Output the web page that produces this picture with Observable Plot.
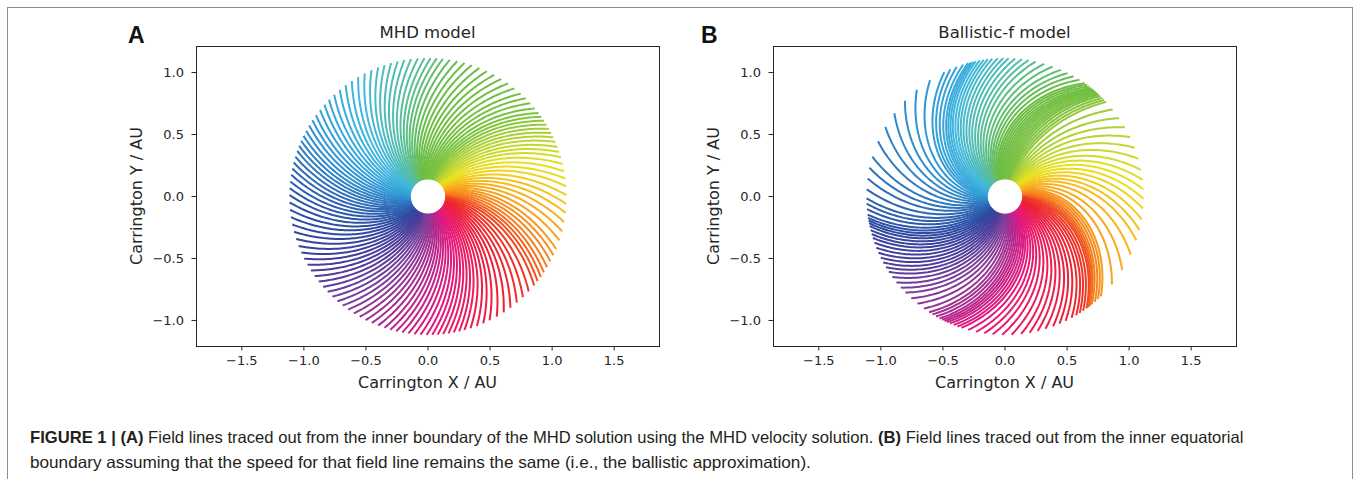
<!DOCTYPE html>
<html><head><meta charset="utf-8">
<script src="https://cdn.jsdelivr.net/npm/d3@7"></script>
<script src="https://cdn.jsdelivr.net/npm/@observablehq/plot@0.6"></script>
<style>
html,body{margin:0;padding:0;background:#fff}
body{width:1355px;height:479px;overflow:hidden;position:relative}
#border{position:absolute;left:7px;top:7px;width:1346px;height:500px;border:1px solid #8c8c8c;box-sizing:border-box}
.panel{position:absolute;top:0}
#overlay{position:absolute;left:0;top:0;pointer-events:none}
</style></head><body>
<div id="border"></div>
<div id="pA" class="panel" style="left:0px"></div>
<div id="pB" class="panel" style="left:577px"></div>
<svg id="overlay" width="1355" height="479"></svg>
<script>
// ---- data ----
const panelTitles = ["MHD model", "Ballistic-f model"];
const panelLetters = ["A", "B"];
const xLabel = "Carrington X / AU";
const yLabel = "Carrington Y / AU";
const xTicks = [-1.5, -1.0, -0.5, 0.0, 0.5, 1.0, 1.5];
const yTicks = [-1.0, -0.5, 0.0, 0.5, 1.0];
const innerRadius = 0.1395;   // AU (30 Rs)
const outerRadius = 1.116;    // AU (240 Rs)
const nLines = 128;
// source longitude (deg) of field line -> longitude winding (deg) between inner and outer boundary
const lonKnots = [0,10,20,30,40,50,60,70,80,90,100,110,120,130,140,150,160,170,180,190,200,210,220,230,240,250,260,270,280,290,300,310,320,330,340,350];
const windingMHD = [40,42,42,38,35,34,36,39,42,42,40,38,37,38,38,38,37,36,36,37,39,40,40,39,38,38,38,38,38,38,39,40,42,44,44,42];
const windingBallistic = [54,62,66,50,44,40,33,27,33,41,49,55,55,52,52,54,58,64,64,50,36,30,32,38,42,44,46,46,44,48,54,58,56,52,50,50];
// shape of the MHD field line (fraction of winding reached vs fraction of radial distance; wind accelerates outward)
const mhdWindingExponent = 0.82;
// colour of a line by its source longitude
const colorLon = [10, 18, 30, 44, 60, 78, 110, 132, 158, 182, 205, 228, 250, 268, 290, 310, 328, 344, 358];
const colorHex = ["#f47a20","#f7941d","#f9b81c","#e8e21e","#b9d433","#7cc242","#6cbd45","#58bf9e","#41b7df","#2f9ad6","#2f6cb7","#2e49a1","#4a3c9b","#79409a","#b3298e","#e5177f","#ec1d5a","#ee1f36","#ef3a23"];

const fmt = d => d.toFixed(1).replace("-", "\u2212");

function cyc(knots, lon) {
  lon = ((lon % 360) + 360) % 360;
  if (lon < knots[0]) lon += 360;
  let i = knots.length - 1;
  for (let k = 0; k < knots.length; k++) if (knots[k] <= lon) i = k;
  const j = (i + 1) % knots.length;
  const a = knots[i], b = j === 0 ? knots[0] + 360 : knots[j];
  return [i, j, (lon - a) / (b - a)];
}
function windingAt(vals, lon) { const [i, j, t] = cyc(lonKnots, lon); return vals[i] + (vals[j] - vals[i]) * t; }
function colorAt(lon) { const [i, j, t] = cyc(colorLon, lon); return d3.interpolateRgb(colorHex[i], colorHex[j])(t); }

function buildLines(winding, expo) {
  const pts = [];
  const NS = 60;
  for (let i = 0; i < nLines; i++) {
    const lon0 = i * 360 / nLines;
    const w = windingAt(winding, lon0);
    const c = colorAt(lon0);
    for (let k = 0; k <= NS; k++) {
      const u = k / NS;
      const r = innerRadius + (outerRadius - innerRadius) * u;
      const phi = (lon0 - w * Math.pow(u, expo)) * Math.PI / 180;
      pts.push({id: i, x: r * Math.cos(phi), y: r * Math.sin(phi), c});
    }
  }
  return pts;
}

function panel(winding, expo) {
  return Plot.plot({
    width: 680, height: 400, marginLeft: 196, marginRight: 21, marginTop: 46, marginBottom: 54,
    x: {domain: [-1.865, 1.865], ticks: xTicks, tickFormat: fmt, tickSize: 4.5, tickPadding: 5, label: null},
    y: {domain: [-1.21, 1.21], ticks: yTicks, tickFormat: fmt, tickSize: 4.5, tickPadding: 8, label: null},
    color: {type: "identity"},
    style: {fontFamily: "DejaVu Sans", fontSize: "13px", color: "#262626", background: "transparent"},
    marks: [
      Plot.line(buildLines(winding, expo), {x: "x", y: "y", z: "id", stroke: "c", strokeWidth: 2, strokeLinecap: "butt"}),
      Plot.frame({stroke: "#262626", strokeWidth: 1})
    ]
  });
}

document.getElementById("pA").appendChild(panel(windingMHD, mhdWindingExponent));
document.getElementById("pB").appendChild(panel(windingBallistic, 1));

// ---- overlay text ----
const svg = d3.select("#overlay");
const offs = [0, 577];
offs.forEach((o, p) => {
  svg.append("text").attr("x", 128 + o - (p ? 4 : 0)).attr("y", 43).text(panelLetters[p])
    .attr("font-family", "Liberation Sans, Arial, sans-serif").attr("font-weight", "bold").attr("font-size", 23).attr("fill", "#111");
  svg.append("text").attr("x", 427.5 + o).attr("y", 38).attr("text-anchor", "middle").text(panelTitles[p])
    .attr("font-family", "DejaVu Sans").attr("font-size", 16.5).attr("fill", "#262626");
  svg.append("text").attr("x", 427.5 + o).attr("y", 388).attr("text-anchor", "middle").text(xLabel)
    .attr("font-family", "DejaVu Sans").attr("font-size", 16).attr("fill", "#262626");
  svg.append("text").attr("transform", `translate(${142 + o},196) rotate(-90)`).attr("text-anchor", "middle").text(yLabel)
    .attr("font-family", "DejaVu Sans").attr("font-size", 16).attr("fill", "#262626");
});

const capFont = "'Liberation Sans Narrow', 'Liberation Sans', Arial, sans-serif";
function capLine(parts) {
  const t = svg.append("text").attr("font-family", capFont).attr("font-size", 16.5).attr("fill", "#231f20");
  parts.forEach(([s, b]) => t.append("tspan").attr("font-weight", b ? "bold" : "normal").text(s));
  return {t, len: t.node().getComputedTextLength()};
}
const l1 = capLine([["FIGURE 1 | (A)", true], [" Field lines traced out from the inner boundary of the MHD solution using the MHD velocity solution. ", false], ["(B)", true], [" Field lines traced out from the inner equatorial", false]]);
const l2 = capLine([["boundary assuming that the speed for that field line remains the same (i.e., the ballistic approximation).", false]]);
l1.t.attr("transform", `translate(30,443) scale(${(1244 - 30) / l1.len},1)`);
l2.t.attr("transform", `translate(30,468) scale(${(811 - 30) / l2.len},1)`);
</script>
</body></html>
